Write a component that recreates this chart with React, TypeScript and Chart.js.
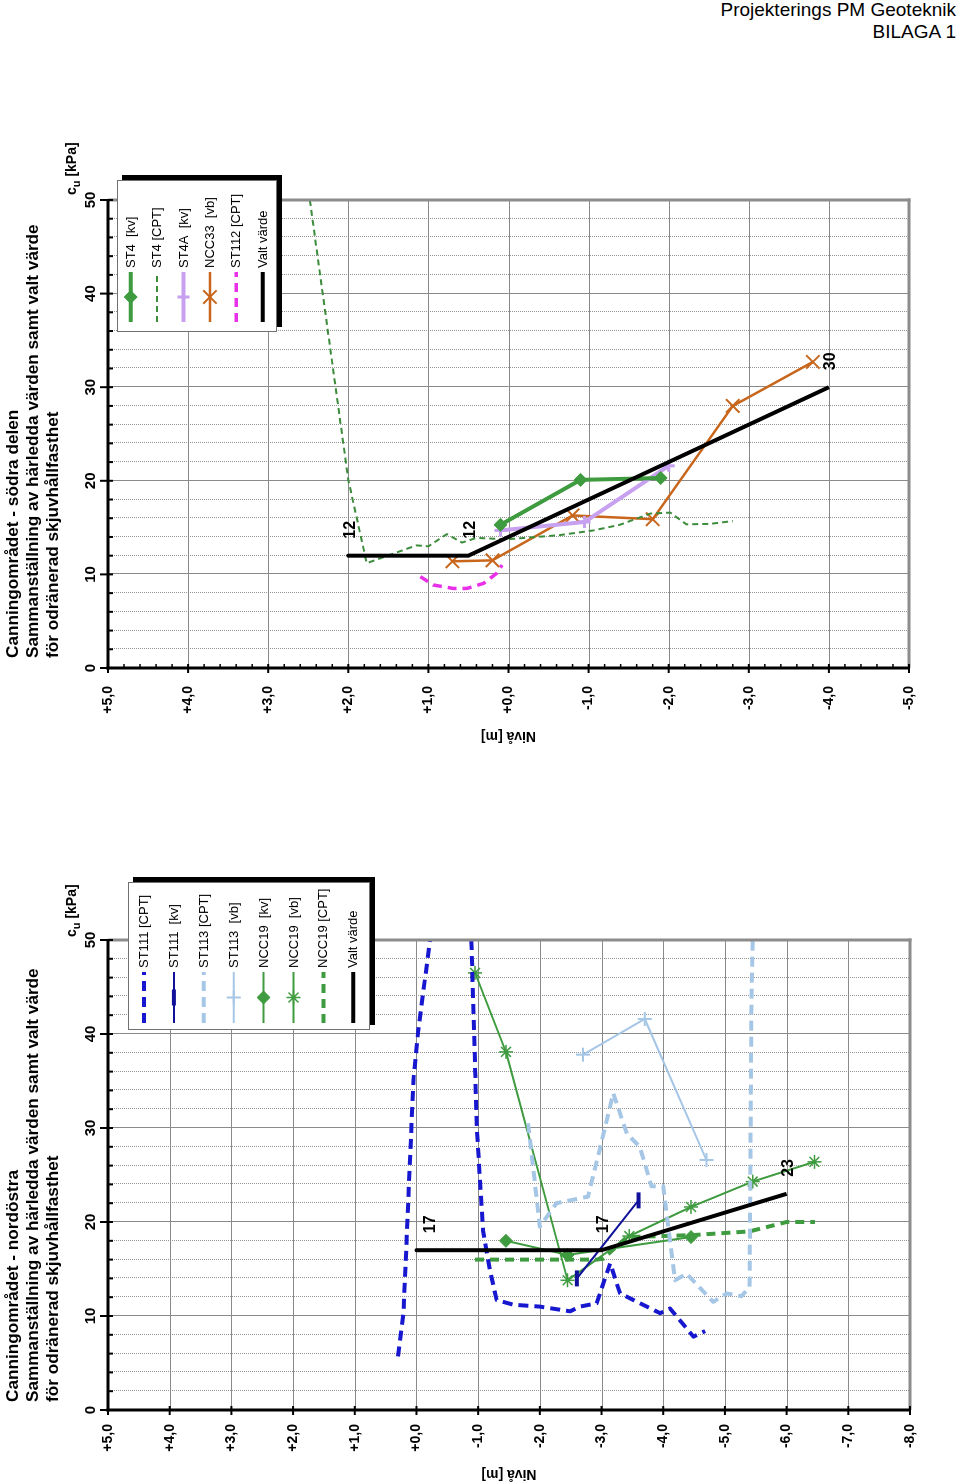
import React, { useEffect, useRef } from 'react';
import { Chart, registerables } from 'chart.js';
Chart.register(...registerables);

// ---------------- Upper chart: Canningområdet - södra delen (Nivå [m], cu [kPa])
const st4KvLevel = [0.1, -0.9, -1.9];
const st4KvCu = [15.3, 20.1, 20.3];
const st4CptLevel = [2.48, 2.0, 1.77, 1.15, 1.0, 0.77, 0.58, 0.4, 0.02, -0.64, -1.06, -1.39, -1.77, -2.02, -2.22, -2.52, -2.8];
const st4CptCu = [50, 20.1, 11.2, 13.1, 13.0, 14.3, 13.4, 13.9, 13.75, 14.2, 14.7, 15.3, 16.5, 16.6, 15.35, 15.4, 15.7];
const st4aKvLevel = [0.1, -0.95, -2.0];
const st4aKvCu = [14.7, 15.6, 21.6];
const ncc33VbLevel = [0.7, 0.2, -0.8, -1.8, -2.8, -3.8];
const ncc33VbCu = [11.4, 11.5, 16.3, 15.9, 28.0, 32.7];
const st112CptLevel = [1.1, 0.94, 0.69, 0.52, 0.31, 0.15, 0.08];
const st112CptCu = [9.76, 8.87, 8.5, 8.5, 9.05, 10.1, 11.0];
const valtUpperLevel = [2.0, 0.5, -4.0];
const valtUpperCu = [12, 12, 30];
const valtUpperLabelLevel = [2.0, 0.5, -4.0];
const valtUpperLabelCu = [12, 12, 30];
const valtUpperLabelText = ['12', '12', '30'];

// ---------------- Lower chart: Canningområdet - nordöstra
const st111CptLevel = [0.3, 0.21, 0.13, 0.05, -0.03, -0.22, -0.55, -0.89, -0.98, -1.08, -1.19, -1.3, -1.57, -2.0, -2.49, -2.65, -2.92, -3.14, -3.3, -3.95, -4.11, -4.49, -4.68];
const st111CptCu = [5.7, 10.3, 22.7, 35.1, 40.4, 50, null, 50, 29.8, 19.1, 14.9, 11.7, 11.2, 11.0, 10.5, 11.0, 11.35, 15.6, 12.4, 10.3, 10.8, 7.8, 8.4];
const st111KvLevel = [-2.6, -3.6];
const st111KvCu = [14.0, 22.3];
const st113CptLevel = [-1.81, -2.0, -2.27, -2.78, -2.97, -3.19, -3.41, -3.62, -3.81, -4.0, -4.19, -4.38, -4.81, -5.03, -5.27, -5.4, -5.43, -5.45];
const st113CptCu = [30.5, 19.5, 22.0, 22.7, 27.7, 33.7, 29.4, 28.0, 23.8, 23.8, 13.8, 14.5, 11.5, 12.4, 12.1, 13.1, 43.6, 50];
const st113VbLevel = [-2.7, -3.7, -4.7];
const st113VbCu = [37.8, 41.6, 26.6];
const ncc19KvLevel = [-1.45, -2.45, -4.45];
const ncc19KvCu = [18.0, 16.5, 18.4];
const ncc19VbLevel = [-0.95, -1.45, -2.45, -3.45, -4.45, -5.45, -6.45];
const ncc19VbCu = [46.5, 38.1, 13.8, 18.5, 21.6, 24.3, 26.4];
const ncc19CptLevel = [-0.95, -2.92, -3.03, -3.41, -4.46, -5.4, -6.0, -6.46];
const ncc19CptCu = [16.0, 16.0, 16.1, 18.4, 18.6, 19.0, 20.0, 20.0];
const valtLowerLevel = [0.0, -3.0, -6.0];
const valtLowerCu = [17, 17, 23];
const valtLowerLabelLevel = [-0.2, -3.0, -6.0];
const valtLowerLabelCu = [17, 17, 23];
const valtLowerLabelText = ['17', '17', '23'];

const FONT = "'Liberation Sans', Arial, Helvetica, sans-serif";

type Series = {
  label: string; level: number[]; cu: (number | null)[]; color: string; width: number;
  dash?: number[]; point?: string; radius?: number; pointWidth?: number; order?: number;
};

const upperSeries: Series[] = [
  { label: 'ST4  [kv]', level: st4KvLevel, cu: st4KvCu, color: '#3f9b3f', width: 4, point: 'rectRot', radius: 6.5, pointWidth: 1 },
  { label: 'ST4 [CPT]', level: st4CptLevel, cu: st4CptCu, color: '#3c8c3c', width: 2, dash: [6, 4] },
  { label: 'ST4A  [kv]', level: st4aKvLevel, cu: st4aKvCu, color: '#c8a0f0', width: 4, point: 'cross', radius: 6, pointWidth: 3 },
  { label: 'NCC33  [vb]', level: ncc33VbLevel, cu: ncc33VbCu, color: '#c8661c', width: 2.5, point: 'crossRot', radius: 9.5, pointWidth: 2 },
  { label: 'ST112 [CPT]', level: st112CptLevel, cu: st112CptCu, color: '#e830e8', width: 3.5, dash: [9, 6] },
  { label: 'Valt värde', level: valtUpperLevel, cu: valtUpperCu, color: '#000000', width: 4, order: -1 },
];

const lowerSeries: Series[] = [
  { label: 'ST111 [CPT]', level: st111CptLevel, cu: st111CptCu, color: '#1717cf', width: 4, dash: [10, 6] },
  { label: 'ST111  [kv]', level: st111KvLevel, cu: st111KvCu, color: '#10109a', width: 2, point: 'line', radius: 8, pointWidth: 4 },
  { label: 'ST113 [CPT]', level: st113CptLevel, cu: st113CptCu, color: '#a6c6e6', width: 4, dash: [10, 6] },
  { label: 'ST113  [vb]', level: st113VbLevel, cu: st113VbCu, color: '#a6c6e6', width: 2, point: 'cross', radius: 7, pointWidth: 2 },
  { label: 'NCC19  [kv]', level: ncc19KvLevel, cu: ncc19KvCu, color: '#3f9b3f', width: 2, point: 'rectRot', radius: 6.5, pointWidth: 1 },
  { label: 'NCC19  [vb]', level: ncc19VbLevel, cu: ncc19VbCu, color: '#3f9b3f', width: 2, point: 'star', radius: 7, pointWidth: 1.5 },
  { label: 'NCC19 [CPT]', level: ncc19CptLevel, cu: ncc19CptCu, color: '#3f9b3f', width: 4, dash: [9, 6] },
  { label: 'Valt värde', level: valtLowerLevel, cu: valtLowerCu, color: '#000000', width: 4, order: -1 },
];

type Cfg = {
  series: Series[]; levelMin: number; W: number; H: number; left: number; top: number;
  padRight: number; padBottom: number; yTickPad: number; yTitlePad: number; minorLevelTicks: boolean;
  labelLevel: number[]; labelCu: number[]; labelText: string[];
  legend: { x0: number; x1: number; y0: number; y1: number; rowStart: number; rowStep: number; sx0: number; sx1: number; tx: number };
  titleLines: string[]; titleLeft: number; cuTitleLeft: number; pageTop: number;
};

const upperCfg: Cfg = {
  series: upperSeries, levelMin: -5, W: 620, H: 960, left: 92, top: 108, padRight: 60, padBottom: 51,
  yTickPad: 18, yTitlePad: 16, minorLevelTicks: true,
  labelLevel: valtUpperLabelLevel, labelCu: valtUpperLabelCu, labelText: valtUpperLabelText,
  legend: { x0: 428, x1: 580, y0: 117, y1: 277, rowStart: 130.7, rowStep: 26.4, sx0: 438, sx1: 488, tx: 492 },
  titleLines: ['Canningområdet - södra delen', 'Sammanställning av härledda värden samt valt värde', 'för odränerad skjuvhållfasthet'],
  titleLeft: 102, cuTitleLeft: 565, pageTop: 760,
};

const lowerCfg: Cfg = {
  series: lowerSeries, levelMin: -8, W: 620, H: 960, left: 74, top: 108, padRight: 76, padBottom: 50,
  yTickPad: 14, yTitlePad: 2, minorLevelTicks: false,
  labelLevel: valtLowerLabelLevel, labelCu: valtLowerLabelCu, labelText: valtLowerLabelText,
  legend: { x0: 454, x1: 602, y0: 128, y1: 370, rowStart: 144, rowStep: 29.9, sx0: 461, sx1: 512, tx: 516 },
  titleLines: ['Canningområdet - nordöstra', 'Sammanställning av härledda värden samt valt värde', 'för odränerad skjuvhållfasthet'],
  titleLeft: 82, cuTitleLeft: 547, pageTop: 1484,
};

function fmtLevel(v: number) {
  const r = Math.round(v * 10) / 10;
  return (r >= 0 ? '+' : '-') + Math.abs(r).toFixed(1).replace('.', ',');
}

function seg(ctx: CanvasRenderingContext2D, x0: number, y0: number, x1: number, y1: number) {
  ctx.beginPath(); ctx.moveTo(x0, y0); ctx.lineTo(x1, y1); ctx.stroke();
}

function drawMarker(ctx: CanvasRenderingContext2D, s: Series, x: number, y: number) {
  if (!s.point) return;
  const r = s.radius || 5;
  ctx.save();
  ctx.setLineDash([]);
  ctx.strokeStyle = s.color; ctx.fillStyle = s.color; ctx.lineWidth = s.pointWidth || 1;
  ctx.beginPath();
  if (s.point === 'rectRot') {
    ctx.moveTo(x - r, y); ctx.lineTo(x, y - r); ctx.lineTo(x + r, y); ctx.lineTo(x, y + r); ctx.closePath();
    ctx.fill(); ctx.stroke();
  } else if (s.point === 'cross') {
    ctx.moveTo(x - r, y); ctx.lineTo(x + r, y); ctx.moveTo(x, y - r); ctx.lineTo(x, y + r); ctx.stroke();
  } else if (s.point === 'crossRot') {
    const d = r * Math.SQRT1_2;
    ctx.moveTo(x - d, y - d); ctx.lineTo(x + d, y + d); ctx.moveTo(x - d, y + d); ctx.lineTo(x + d, y - d); ctx.stroke();
  } else if (s.point === 'star') {
    const d = r * Math.SQRT1_2;
    ctx.moveTo(x - r, y); ctx.lineTo(x + r, y); ctx.moveTo(x, y - r); ctx.lineTo(x, y + r);
    ctx.moveTo(x - d, y - d); ctx.lineTo(x + d, y + d); ctx.moveTo(x - d, y + d); ctx.lineTo(x + d, y - d); ctx.stroke();
  } else if (s.point === 'line') {
    ctx.moveTo(x - r, y); ctx.lineTo(x + r, y); ctx.stroke();
  }
  ctx.restore();
}

function makePlugins(cfg: Cfg) {
  const frame = {
    id: 'frame',
    beforeDatasetsDraw(chart: any) {
      const { ctx, chartArea: a } = chart;
      const xs = chart.scales.x, ys = chart.scales.y;
      ctx.save();
      ctx.lineWidth = 1;
      ctx.strokeStyle = '#959595';
      ctx.setLineDash([1, 1]);
      for (let v = 2; v < 50; v += 2) {
        if (v % 10 === 0) continue;
        const p = Math.round(xs.getPixelForValue(v)) + 0.5;
        seg(ctx, p, a.top, p, a.bottom);
      }
      ctx.setLineDash([]);
      ctx.strokeStyle = '#8a8a8a';
      for (let v = 10; v < 50; v += 10) {
        const p = Math.round(xs.getPixelForValue(v)) + 0.5;
        seg(ctx, p, a.top, p, a.bottom);
      }
      for (let v = cfg.levelMin + 1; v < 5; v += 1) {
        const p = Math.round(ys.getPixelForValue(v)) + 0.5;
        seg(ctx, a.left, p, a.right, p);
      }
      ctx.restore();
    },
    afterDatasetsDraw(chart: any) {
      const { ctx, chartArea: a } = chart;
      const xs = chart.scales.x, ys = chart.scales.y;
      ctx.save();
      ctx.setLineDash([]);
      ctx.strokeStyle = '#8c8c8c'; ctx.lineWidth = 3;
      seg(ctx, a.right, a.top, a.right, a.bottom + 1.5);
      seg(ctx, a.left, a.bottom, a.right + 1.5, a.bottom);
      ctx.strokeStyle = '#000'; ctx.lineWidth = 3;
      seg(ctx, a.left - 1.5, a.top, a.right, a.top);
      seg(ctx, a.left, a.top - 1.5, a.left, a.bottom);
      ctx.lineWidth = 2;
      for (let v = 0; v <= 50; v += 2) {
        const p = xs.getPixelForValue(v);
        if (v % 10 === 0) seg(ctx, p, a.top - 8, p, a.top + 5);
        else seg(ctx, p, a.top, p, a.top + 5);
      }
      for (let v = cfg.levelMin; v <= 5; v += 1) {
        const p = ys.getPixelForValue(v);
        seg(ctx, a.left - 5, p, a.left + 4, p);
      }
      if (cfg.minorLevelTicks) {
        ctx.lineWidth = 1.5;
        for (let i = 0; i <= (5 - cfg.levelMin) * 5; i++) {
          if (i % 5 === 0) continue;
          const p = ys.getPixelForValue(cfg.levelMin + i * 0.2);
          seg(ctx, a.left, p, a.left + 4, p);
        }
      }
      ctx.restore();
    },
    afterDraw(chart: any) {
      const { ctx } = chart;
      const xs = chart.scales.x, ys = chart.scales.y;
      ctx.save();
      ctx.fillStyle = '#000';
      ctx.font = `bold 16px ${FONT}`;
      ctx.textAlign = 'left';
      ctx.textBaseline = 'middle';
      cfg.labelText.forEach((t, i) => {
        ctx.fillText(t, xs.getPixelForValue(cfg.labelCu[i]) + 17, ys.getPixelForValue(cfg.labelLevel[i]) + 2);
      });
      const L = cfg.legend;
      ctx.fillStyle = '#000';
      ctx.fillRect(L.x0 + 5, L.y0 + 5, L.x1 - L.x0, L.y1 - L.y0);
      ctx.fillStyle = '#fff';
      ctx.fillRect(L.x0, L.y0, L.x1 - L.x0, L.y1 - L.y0);
      ctx.strokeStyle = '#707070'; ctx.lineWidth = 1;
      ctx.strokeRect(L.x0 + 0.5, L.y0 + 0.5, L.x1 - L.x0 - 1, L.y1 - L.y0 - 1);
      ctx.font = `13px ${FONT}`;
      ctx.textBaseline = 'middle';
      cfg.series.forEach((s, i) => {
        const y = L.rowStart + i * L.rowStep;
        ctx.strokeStyle = s.color; ctx.lineWidth = s.width;
        ctx.setLineDash(s.dash || []);
        seg(ctx, L.sx0, y, L.sx1, y);
        ctx.setLineDash([]);
        drawMarker(ctx, s, (L.sx0 + L.sx1) / 2, y);
        ctx.fillStyle = '#000';
        ctx.fillText(s.label, L.tx, y + 0.5);
      });
      ctx.restore();
    },
  };
  return [frame];
}

function Panel({ cfg }: { cfg: Cfg }) {
  const ref = useRef<HTMLCanvasElement>(null);
  useEffect(() => {
    if (!ref.current) return;
    const chart = new Chart(ref.current, {
      type: 'scatter',
      data: {
        datasets: cfg.series.map((s) => ({
          label: s.label,
          data: s.level.map((l, i) => ({ x: s.cu[i] as any, y: l })),
          showLine: true,
          borderColor: s.color,
          backgroundColor: s.color,
          borderWidth: s.width,
          borderDash: s.dash || [],
          borderCapStyle: 'butt',
          borderJoinStyle: 'round',
          pointStyle: (s.point || 'circle') as any,
          pointRadius: s.point ? s.radius : 0,
          pointHoverRadius: 0,
          pointBorderWidth: s.pointWidth || 1,
          pointBorderColor: s.color,
          pointBackgroundColor: s.color,
          order: s.order || 0,
          spanGaps: false,
          tension: 0,
        })),
      },
      options: {
        animation: false,
        responsive: false,
        devicePixelRatio: 1,
        events: [],
        layout: { padding: { left: 0, top: 0, right: cfg.padRight, bottom: cfg.padBottom } },
        plugins: { legend: { display: false }, tooltip: { enabled: false }, title: { display: false } },
        scales: {
          x: {
            type: 'linear', position: 'top', min: 0, max: 50,
            ticks: { stepSize: 10, color: '#000', font: { family: FONT, size: 15, weight: 'bold' }, padding: 8, maxRotation: 0, autoSkip: false },
            grid: { display: false, drawTicks: false },
            border: { display: false },
            afterFit: (s: any) => { s.height = cfg.top; },
          },
          y: {
            type: 'linear', position: 'left', min: cfg.levelMin, max: 5,
            ticks: { stepSize: 1, color: '#000', font: { family: FONT, size: 14, weight: 'bold' }, padding: cfg.yTickPad, autoSkip: false, callback: (v: any) => fmtLevel(Number(v)) },
            grid: { display: false, drawTicks: false },
            border: { display: false },
            title: { display: true, text: 'Nivå [m]', color: '#000', font: { family: FONT, size: 14, weight: 'bold' }, padding: { top: cfg.yTitlePad, bottom: 0 } },
            afterFit: (s: any) => { s.width = cfg.left; },
          },
        },
      } as any,
      plugins: makePlugins(cfg) as any,
    });
    return () => chart.destroy();
  }, [cfg]);

  return (
    <div style={{ position: 'absolute', left: 0, top: cfg.pageTop, width: cfg.W, height: cfg.H, transformOrigin: '0 0', transform: 'rotate(-90deg)' }}>
      <canvas ref={ref} width={cfg.W} height={cfg.H} style={{ position: 'absolute', left: 0, top: 0, width: cfg.W, height: cfg.H }} />
      <div style={{ position: 'absolute', left: cfg.titleLeft, top: 2, fontFamily: FONT, fontWeight: 'bold', fontSize: 17.2, lineHeight: '20px', whiteSpace: 'nowrap', color: '#000' }}>
        {cfg.titleLines.map((t, i) => <div key={i}>{t}</div>)}
      </div>
      <div style={{ position: 'absolute', left: cfg.cuTitleLeft, top: 64, fontFamily: FONT, fontWeight: 'bold', fontSize: 14, lineHeight: '15px', whiteSpace: 'nowrap', color: '#000' }}>
        c<sub style={{ fontSize: 11 }}>u</sub> [kPa]
      </div>
    </div>
  );
}

export default function App() {
  return (
    <div style={{ position: 'absolute', left: 0, top: 0, width: 960, height: 1484, overflow: 'hidden', background: '#fff' }}>
      <div style={{ position: 'absolute', right: 4, top: -1, textAlign: 'right', fontFamily: FONT, fontSize: 19, lineHeight: '22px', color: '#000' }}>
        <div>Projekterings PM Geoteknik</div>
        <div>BILAGA 1</div>
      </div>
      <Panel cfg={upperCfg} />
      <Panel cfg={lowerCfg} />
    </div>
  );
}
